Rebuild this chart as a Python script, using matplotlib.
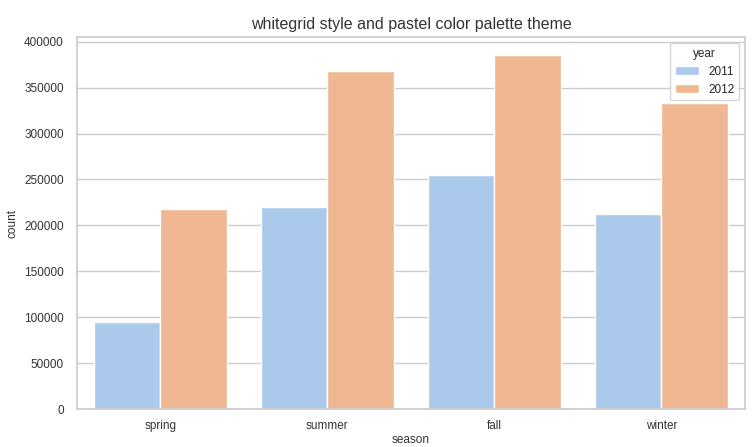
import matplotlib
matplotlib.use("Agg")
import matplotlib.pyplot as plt
import seaborn as sns
import pandas as pd

seasons = ["spring", "summer", "fall", "winter"]
count_2011 = [95000, 220000, 255000, 212000]
count_2012 = [218000, 368000, 385000, 333000]

df = pd.DataFrame({
    "season": seasons * 2,
    "year": ["2011"] * 4 + ["2012"] * 4,
    "count": count_2011 + count_2012,
})

sns.set_theme(style="whitegrid", palette="pastel")
plt.rcParams["font.family"] = ["Liberation Sans", "DejaVu Sans"]

fig = plt.figure(figsize=(7.54, 4.47), dpi=100)
ax = fig.add_axes([0.102, 0.085, 0.886, 0.832])
sns.barplot(data=df, x="season", y="count", hue="year", order=seasons,
            edgecolor="white", linewidth=1, ax=ax)
ax.set_ylim(0, 405000)
ax.set_title("whitegrid style and pastel color palette theme", fontsize=11.5, color=".2")
ax.set_xlabel("season", fontsize=8.5, color=".2", labelpad=1)
ax.set_ylabel("count", fontsize=8.5, color=".2")
ax.tick_params(labelsize=8.5, labelcolor=".2")
ax.tick_params(axis="x", pad=2)
leg = ax.legend(title="year", loc="upper right", fontsize=8.5, title_fontsize=8.5)

fig.savefig("out.png", dpi=100)
